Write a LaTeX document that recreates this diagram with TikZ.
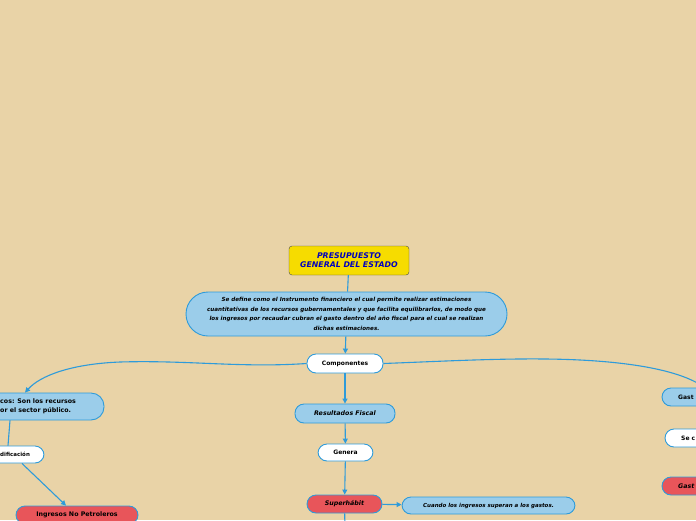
\documentclass[tikz,border=0pt]{standalone}
\usepackage{fontspec}
\setmainfont{DejaVu Sans}
\usetikzlibrary{arrows.meta}
\definecolor{fondo}{HTML}{E9D3A7}
\definecolor{celeste}{HTML}{9BCDEA}
\definecolor{azulborde}{HTML}{2E9BDA}
\definecolor{rojo}{HTML}{E8555A}
\definecolor{amarillo}{HTML}{F6DC00}
\begin{document}
\begin{tikzpicture}[x=1pt,y=-1pt,
  caja/.style={draw=azulborde, line width=0.9pt, rounded corners=#1, inner sep=0pt},
  caja/.default=9pt,
  nube/.style={caja=#1, fill=celeste},
  nube/.default=9pt,
  blanca/.style={caja, fill=white},
  roja/.style={caja, fill=rojo},
  texto/.style={font=\fontsize{6}{7}\selectfont\bfseries},
  textoit/.style={font=\fontsize{6.3}{7}\selectfont\bfseries\itshape},
  flecha/.style={draw=azulborde, line width=1.1pt, -{Triangle[length=5pt,width=5pt]}},
  linea/.style={draw=azulborde, line width=1.1pt}]
\useasboundingbox (0,0) rectangle (696,520);
\clip (0,0) rectangle (696,520);
\fill[fondo] (0,0) rectangle (696,520);

% centro
\node[draw=black!70, fill=amarillo, rounded corners=3pt, minimum width=120pt, minimum height=29pt,
  align=center, text=blue!75!black, font=\fontsize{7.8}{9}\selectfont\bfseries\itshape] (titulo) at (349,260.5)
  {PRESUPUESTO\\GENERAL DEL ESTADO};
\node[nube=22pt, minimum width=321pt, minimum height=44pt, align=center,
  font=\fontsize{5.6}{9.5}\selectfont\bfseries\itshape] (defin) at (346.5,314)
  {Se define como el Instrumento financiero el cual permite realizar estimaciones\\
   cuantitativas de los recursos gubernamentales y que facilita equilibrarlos, de modo que\\
   los ingresos por recaudar cubran el gasto dentro del año fiscal para el cual se realizan\\
   dichas estimaciones.};
\node[blanca, minimum width=76pt, minimum height=19pt, texto] (compo) at (345,363.5) {Componentes};
\node[nube, minimum width=100pt, minimum height=19pt, textoit] (resul) at (345,413.5) {Resultados Fiscal};
\node[blanca, minimum width=55pt, minimum height=17pt, texto] (genera) at (345.5,452.5) {Genera};
\node[roja, minimum width=75pt, minimum height=18pt, textoit] (superh) at (344.5,504) {Superhábit};
\node[nube, minimum width=173pt, minimum height=17pt, font=\fontsize{5.5}{7}\selectfont\bfseries\itshape] (cuando) at (488.5,505.5)
  {Cuando los ingresos superan a los gastos.};
\coordinate (abajo) at (345,530);

% rama izquierda
\node[nube=13pt, minimum width=184pt, minimum height=27pt] (ingpub) at (12,406.5) {};
\node[anchor=west, align=left, inner sep=0pt, font=\fontsize{6.3}{9}\selectfont\bfseries] (ingtxt) at (0,406.5)
  {cos: Son los recursos\\or el sector público.};
\node[blanca, minimum width=128pt, minimum height=17pt] (clasif) at (-20,454.5) {};
\node[anchor=west, inner sep=0pt, font=\fontsize{5.5}{7}\selectfont\bfseries] (clastxt) at (0,454.5) {dificación};
\node[roja, minimum width=122pt, minimum height=18pt, font=\fontsize{6.3}{7}\selectfont\bfseries] (ingnp) at (77,515)
  {Ingresos No Petroleros};

% rama derecha
\node[nube, minimum width=156pt, minimum height=18pt] (gastpub) at (740,397) {};
\node[anchor=west, inner sep=0pt, texto] (gasttxt) at (678,397) {Gast};
\node[blanca, minimum width=156pt, minimum height=18pt] (seclas) at (743,438) {};
\node[anchor=west, inner sep=0pt, texto] (sectxt) at (681,438) {Se c};
\node[roja, minimum width=156pt, minimum height=18pt] (gastcor) at (740,486) {};
\node[anchor=west, inner sep=0pt, textoit] (gcortxt) at (678,486) {Gast};

% conectores
\draw[linea] (titulo) -- (defin);
\draw[flecha] (defin) -- (compo);
\draw[flecha] (compo.west) .. controls (240,368) and (190,360) .. (120,362)
  .. controls (70,364) and (40,376) .. ([xshift=13pt]ingpub.north);
\draw[flecha] (compo.east) .. controls (450,361) and (520,357) .. (580,360)
  .. controls (640,363) and (680,372) .. ([xshift=-35pt]gastpub.north);
\draw[flecha] (compo) -- (resul);
\draw[flecha] (resul) -- (genera);
\draw[flecha] (genera) -- (superh);
\draw[flecha] (superh) -- (cuando);
\draw[linea] (superh) -- (abajo);
\draw[linea] ([xshift=-2pt]ingpub.south) -- ([xshift=28pt]clasif.north);
\draw[flecha] ([xshift=42pt]clasif.south) -- ([xshift=-11pt]ingnp.north);
\end{tikzpicture}
\end{document}
